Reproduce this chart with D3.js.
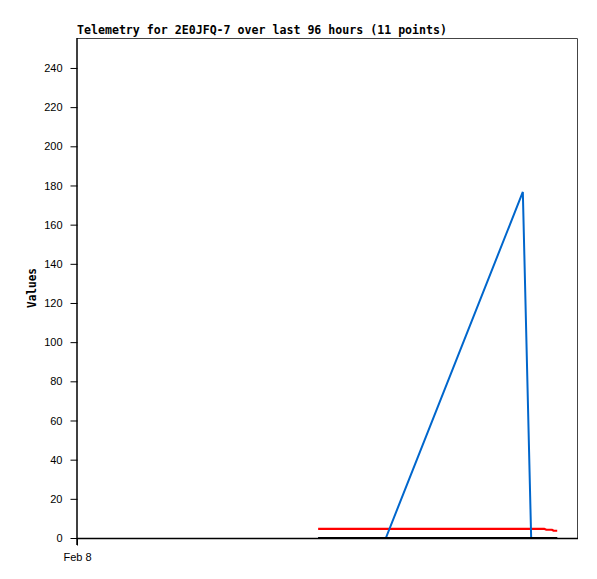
<!DOCTYPE html>
<html><head><meta charset="utf-8">
<script src="https://cdn.jsdelivr.net/npm/d3@7"></script>
<style>body{margin:0;background:#fff}</style>
</head><body>
<svg id="c" width="597" height="579"></svg>
<script>
// hours since Feb 8 00:00
const hours = [46.3, 59.3, 85.6, 87.2, 89.7, 90.1, 91.2, 91.5, 92.2];
const seriesBlue = [0, 0, 176.7, 0, 0, 0, 0, 0, 0];
const seriesRed = [4.7, 4.7, 4.7, 4.7, 4.7, 4.2, 4.2, 3.7, 3.7];
const seriesBlack = [0, 0, 0, 0, 0, 0, 0, 0, 0];
const yTicks = [0, 20, 40, 60, 80, 100, 120, 140, 160, 180, 200, 220, 240];
const xTickLabels = ["Feb 8"];
const title = "Telemetry for 2E0JFQ-7 over last 96 hours (11 points)";

const svg = d3.select("#c");
const L = 77, R = 577, T = 38, B = 538;
const x = d3.scaleLinear().domain([0, 96]).range([L, R]);
const y = d3.scaleLinear().domain([0, 255.3]).range([B, T]);

// border top/right
svg.append("path").attr("d", `M${L},${T+0.5}H${R+0.5}V${B}`).attr("fill","none").attr("stroke","#444").attr("stroke-width",1);

const line = d3.line().x((d,i)=>x(hours[i])).y(d=>y(d));
[[seriesRed,"#ff0000",2.2],[seriesBlue,"#0066cc",2],[seriesBlack,"#000",2]].forEach(([s,c,w])=>{
  svg.append("path").datum(s).attr("d", line).attr("fill","none").attr("stroke",c).attr("stroke-width",w);
});

// y axis
const ya = svg.append("g").attr("transform",`translate(${L+0.5},0)`)
  .call(d3.axisLeft(y).tickValues(yTicks).tickSize(7).tickPadding(8));
ya.select(".domain").attr("d", `M-0.5,${T}V${B+7}`).attr("stroke","#000").attr("stroke-width",1.5);
ya.selectAll("text").attr("font-family","Liberation Sans, Arial, sans-serif").attr("font-size",11).attr("fill","#000");
ya.selectAll(".tick line").attr("stroke","#000");

// x axis
const xa = svg.append("g").attr("transform",`translate(0,${B+0.5})`)
  .call(d3.axisBottom(x).tickValues([0]).tickFormat((d,i)=>xTickLabels[i]).tickSize(7).tickSizeOuter(0).tickPadding(8));
xa.select(".domain").attr("d", `M${L},0H${R+1}`).attr("stroke","#000").attr("stroke-width",1.5);
xa.selectAll("text").attr("font-family","Liberation Sans, Arial, sans-serif").attr("font-size",11).attr("fill","#000");

svg.append("text").attr("x", L).attr("y", 34).text(title)
  .attr("textLength", 370).attr("lengthAdjust","spacingAndGlyphs")
  .attr("font-family","DejaVu Sans Mono, monospace").attr("font-weight","bold").attr("font-size",12);
svg.append("text").attr("transform","translate(36,288) rotate(-90)").attr("text-anchor","middle").text("Values")
  .attr("textLength", 40).attr("lengthAdjust","spacingAndGlyphs")
  .attr("font-family","DejaVu Sans Mono, monospace").attr("font-weight","bold").attr("font-size",12);
</script>
</body></html>
